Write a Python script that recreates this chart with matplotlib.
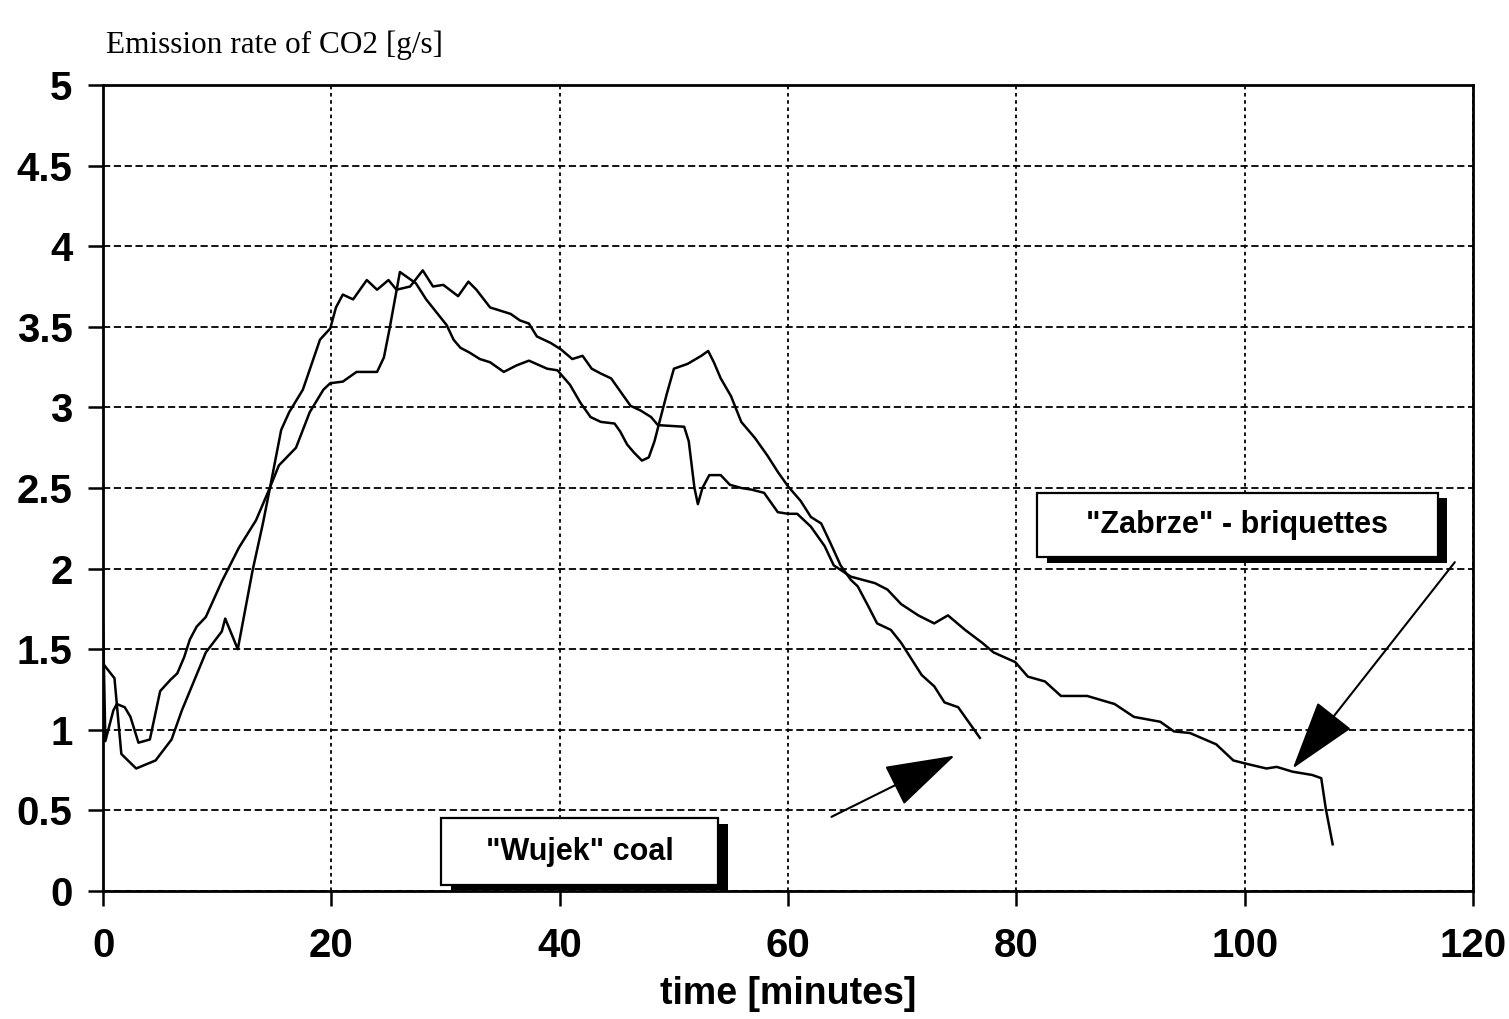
import matplotlib
matplotlib.use("Agg")
import matplotlib.pyplot as plt
import matplotlib.patheffects as pe
from matplotlib.patches import Rectangle
import numpy as np

# "Wujek" coal (ends ~77 min)
t_wujek = [0, 0.2, 0.9, 1.2, 1.9, 2.4, 3.1, 4.1, 4.4, 5.0, 5.9, 6.5, 7.1, 7.6, 8.2, 9.0,
           10.4, 11.9, 13.4, 14.6, 15.4, 16.9, 18.1, 19.3, 19.9, 21.0, 22.2, 24.0, 24.6, 25.1,
           26.0, 27.4, 28.3, 29.2, 30.1, 30.7, 31.3, 32.1, 33.0, 33.9, 35.1, 36.2, 37.3, 38.9,
           39.8, 40.9, 41.8, 42.7, 43.6, 44.8, 45.3, 45.9, 46.5, 47.2, 47.8, 48.3, 48.7, 49.4,
           50.0, 51.2, 52.4, 53.0, 53.5, 54.1, 55.0, 55.9, 57.1, 58.2, 59.1, 60.0, 61.1, 62.0,
           62.9, 63.7, 64.6, 65.5, 66.1, 67.0, 67.8, 69.0, 69.9, 70.8, 71.7, 72.8, 73.7, 74.9,
           75.8, 76.8]
co2_wujek = [1.66, 0.93, 1.12, 1.16, 1.14, 1.08, 0.92, 0.94, 1.04, 1.24, 1.31, 1.35, 1.45, 1.56, 1.64, 1.70,
             1.92, 2.13, 2.30, 2.50, 2.64, 2.75, 2.97, 3.11, 3.15, 3.16, 3.22, 3.22, 3.31, 3.49,
             3.84, 3.77, 3.67, 3.59, 3.51, 3.42, 3.37, 3.34, 3.30, 3.28, 3.22, 3.26, 3.29, 3.24,
             3.23, 3.14, 3.03, 2.94, 2.91, 2.90, 2.85, 2.77, 2.72, 2.67, 2.69, 2.79, 2.90, 3.09,
             3.24, 3.27, 3.32, 3.35, 3.28, 3.18, 3.07, 2.91, 2.81, 2.70, 2.60, 2.51, 2.42, 2.32,
             2.28, 2.16, 2.02, 1.93, 1.89, 1.77, 1.66, 1.62, 1.54, 1.44, 1.34, 1.27, 1.17, 1.14,
             1.05, 0.95]

# "Zabrze" briquettes (ends ~108 min)
t_zabrze = [0, 1.0, 1.6, 2.9, 4.6, 6.0, 6.9, 9.0, 10.4, 10.7, 11.8, 13.1, 14.0, 14.7, 15.6, 16.3,
            17.5, 19.0, 19.9, 20.4, 21.0, 21.9, 23.1, 24.0, 25.0, 25.7, 26.9, 28.0, 28.9, 29.8,
            31.1, 32.0, 32.7, 33.9, 34.8, 35.7, 36.5, 37.3, 38.0, 39.2, 40.1, 41.1, 42.0, 42.8,
            43.6, 44.5, 45.3, 46.2, 47.1, 48.0, 48.6, 50.9, 51.3, 51.8, 52.1, 52.5, 53.1, 54.1,
            54.9, 55.9, 56.8, 57.9, 59.1, 60.0, 60.8, 62.0, 63.2, 64.0, 65.5, 67.6, 68.7, 69.9,
            71.4, 72.8, 74.0, 75.5, 77.0, 78.0, 79.9, 81.0, 82.5, 83.9, 86.2, 88.6, 90.3, 92.6,
            93.8, 95.2, 97.5, 99.0, 100.1, 101.9, 102.8, 104.2, 105.9, 106.7, 107.1, 107.7]
co2_zabrze = [1.41, 1.32, 0.85, 0.76, 0.81, 0.94, 1.12, 1.48, 1.61, 1.69, 1.50, 1.99, 2.28, 2.53, 2.86, 2.97,
              3.11, 3.42, 3.49, 3.62, 3.70, 3.67, 3.79, 3.73, 3.79, 3.73, 3.75, 3.85, 3.75, 3.76,
              3.69, 3.78, 3.73, 3.62, 3.60, 3.58, 3.54, 3.52, 3.44, 3.40, 3.36, 3.30, 3.32, 3.24,
              3.21, 3.18, 3.10, 3.01, 2.98, 2.94, 2.89, 2.88, 2.79, 2.50, 2.40, 2.50, 2.58, 2.58,
              2.52, 2.50, 2.49, 2.47, 2.35, 2.34, 2.34, 2.26, 2.14, 2.02, 1.95, 1.91, 1.87, 1.78,
              1.71, 1.66, 1.71, 1.62, 1.54, 1.48, 1.42, 1.33, 1.30, 1.21, 1.21, 1.16, 1.08, 1.05,
              0.99, 0.98, 0.91, 0.81, 0.79, 0.76, 0.77, 0.74, 0.72, 0.70, 0.51, 0.29]

xticks = [0, 20, 40, 60, 80, 100, 120]
yticks = [0, 0.5, 1, 1.5, 2, 2.5, 3, 3.5, 4, 4.5, 5]
ytick_labels = ["0", "0.5", "1", "1.5", "2", "2.5", "3", "3.5", "4", "4.5", "5"]

sans = "Liberation Sans"

fig = plt.figure(figsize=(15.09, 10.19), dpi=100)
ax = fig.add_axes([0.0683, 0.1256, 0.9079, 0.7910])

ax.plot(t_wujek, co2_wujek, color="black", lw=1.8, zorder=3)
ax.plot(t_zabrze, co2_zabrze, color="black", lw=1.8, zorder=3)

ax.set_xlim(0, 120)
ax.set_ylim(0, 5)
ax.set_xticks(xticks)
ax.set_xticklabels([str(x) for x in xticks], fontfamily=sans, fontweight="bold", fontsize=29)
ax.set_yticks(yticks)
ax.set_yticklabels(ytick_labels, fontfamily=sans, fontweight="bold", fontsize=29)
ax.tick_params(axis="both", direction="out", length=11, width=1.8, color="black")
ax.tick_params(axis="y", pad=11)
ax.tick_params(axis="x", pad=15)

ax.yaxis.grid(True, linestyle=(0, (4, 2)), color="black", lw=1.3)
ax.xaxis.grid(True, linestyle=(0, (2, 2)), color="black", lw=1.3)
ax.set_axisbelow(True)
for s in ax.spines.values():
    s.set_linewidth(2)
    s.set_color("black")

ax.set_xlabel("time [minutes]", fontfamily=sans, fontweight="bold", fontsize=27, labelpad=8)

fig.text(106 / 1509, 1 - 53 / 1019, "Emission rate of CO2 [g/s]",
         fontfamily="Liberation Serif", fontsize=22.5, va="baseline")

# labelled boxes with drop shadow
shadow = [pe.SimplePatchShadow(offset=(7, -4), shadow_rgbFace="black", alpha=1.0), pe.Normal()]
for (x0, y0, w, h, label) in [(81.8, 2.07, 35.1, 0.40, '"Zabrze" - briquettes'),
                              (29.6, 0.04, 24.3, 0.41, '"Wujek" coal')]:
    r = Rectangle((x0, y0), w, h, facecolor="white", edgecolor="black", lw=1.6,
                  zorder=5, clip_on=False)
    r.set_path_effects(shadow)
    ax.add_patch(r)
    ax.text(x0 + w / 2, y0 + h / 2, label, ha="center", va="center",
            fontfamily=sans, fontweight="bold", fontsize=22, zorder=6)

arrow = dict(arrowstyle="-|>,head_length=4.5,head_width=1.4", mutation_scale=10,
             color="black", lw=1.5, shrinkA=0, shrinkB=0)
ax.annotate("", xy=(104.2, 0.76), xytext=(118.4, 2.04), arrowprops=arrow, zorder=6)
ax.annotate("", xy=(74.6, 0.84), xytext=(63.8, 0.46), arrowprops=arrow, zorder=6)

fig.savefig("out.png", dpi=100)
